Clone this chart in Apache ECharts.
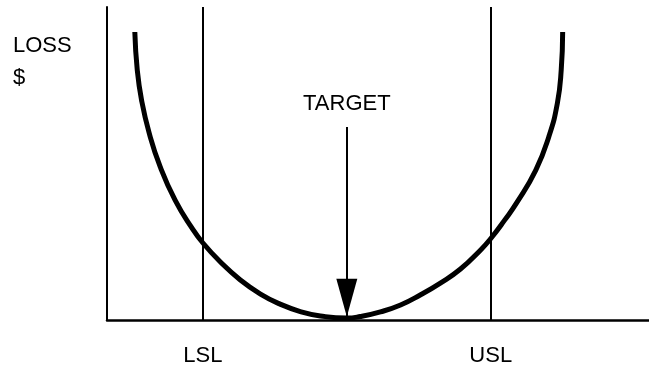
<!DOCTYPE html>
<html>
<head>
<meta charset="utf-8">
<script src="https://cdn.jsdelivr.net/npm/echarts@6/dist/echarts.min.js"></script>
<style>
  html, body { margin: 0; padding: 0; background: #fff; }
  #chart { width: 649px; height: 370px; }
</style>
</head>
<body>
<div id="chart"></div>
<script>
// deviation from target (x) and loss (y)
const lossX = [-4.42, -4.37, -4.28, -4.12, -3.89, -3.58, -3.23, -3.00, -2.64, -2.22, -1.80, -1.38, -0.97, -0.55, 0,
               0.28, 0.70, 1.12, 1.53, 1.95, 2.37, 2.79, 3.01, 3.29, 3.54, 3.94, 4.21, 4.39, 4.47, 4.50]
const lossY = [9.20, 8.00, 7.03, 5.97, 4.89, 3.83, 2.94, 2.46, 1.86, 1.28, 0.83, 0.50, 0.27, 0.13, 0.06,
               0.11, 0.26, 0.48, 0.80, 1.18, 1.63, 2.24, 2.62, 3.19, 3.74, 4.79, 5.85, 6.93, 7.99, 9.20]
const specLimits = [-3, 3]
const limitLabels = ['LSL', 'USL']
const target = 0
const arrowFrom = 6.17
const arrowTo = 0.10

const FONT = 'Liberation Sans, Arial, sans-serif'
const myChart = echarts.init(document.getElementById('chart'))

const option = {
  animation: false,
  backgroundColor: '#fff',
  title: {
    text: 'LOSS\n$',
    left: 13,
    top: 30,
    padding: 0,
    textStyle: {fontFamily: FONT, fontSize: 22, fontWeight: 'normal', color: '#000', lineHeight: 32}
  },
  grid: {left: 107, right: 0, top: 7, bottom: 50},
  xAxis: {
    type: 'value',
    min: -5,
    max: 6.3,
    interval: 1,
    axisLine: {show: true, onZero: false, lineStyle: {color: '#000', width: 2.5}},
    axisTick: {show: false},
    splitLine: {show: false},
    axisLabel: {
      margin: 25,
      fontFamily: FONT,
      fontSize: 22,
      color: '#000',
      showMinLabel: false,
      showMaxLabel: false,
      formatter: v => {
        const i = specLimits.indexOf(v)
        return i >= 0 ? limitLabels[i] : ''
      }
    }
  },
  yAxis: {
    type: 'value',
    min: 0,
    max: 10,
    axisLine: {show: true, onZero: false, lineStyle: {color: '#000', width: 2}},
    axisTick: {show: false},
    axisLabel: {show: false},
    splitLine: {show: false}
  },
  series: [{
    type: 'line',
    data: lossX.map((x, i) => [x, lossY[i]]),
    smooth: 0.5,
    symbol: 'none',
    lineStyle: {color: '#000', width: 5},
    markLine: {
      silent: true,
      symbol: 'none',
      animation: false,
      lineStyle: {color: '#000', width: 2, type: 'solid'},
      label: {show: false},
      data: [
        ...specLimits.map(v => ({xAxis: v})),
        [
          {coord: [target, arrowFrom], symbol: 'none',
           label: {show: true, position: 'start', formatter: 'TARGET', distance: 12,
                   fontFamily: FONT, fontSize: 22, color: '#000'}},
          {coord: [target, arrowTo], symbol: 'triangle', symbolSize: [21, 38], symbolOffset: [0, '50%']}
        ]
      ]
    }
  }]
}

myChart.setOption(option)
</script>
</body>
</html>
